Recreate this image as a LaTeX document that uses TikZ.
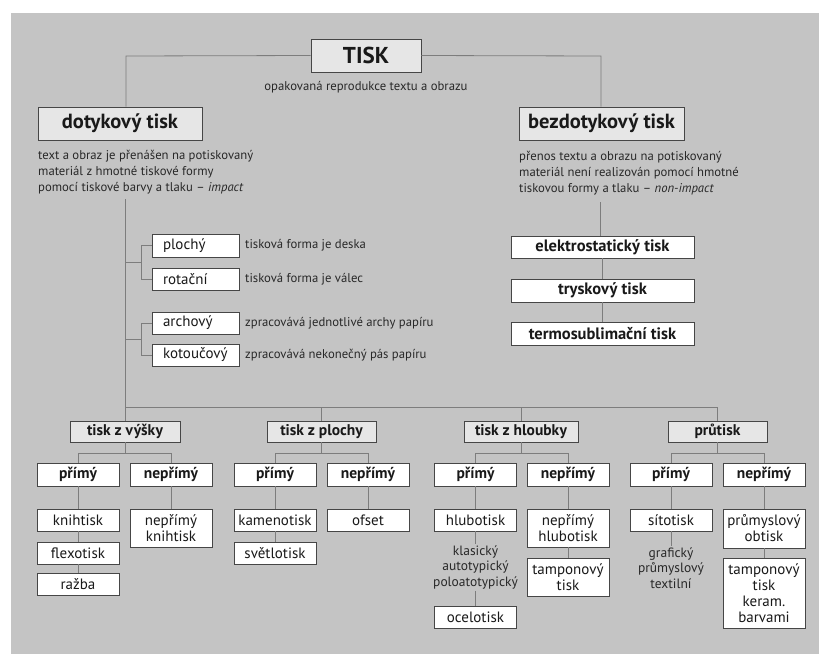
\documentclass[tikz,border=0pt]{standalone}
\usepackage{fontspec}
\setmainfont{PT Sans}
\usetikzlibrary{calc}
\definecolor{bgc}{RGB}{196,196,196}
\definecolor{hfillc}{RGB}{230,230,230}
\definecolor{bordc}{RGB}{70,70,70}
\definecolor{linec}{RGB}{125,125,125}
\definecolor{txtc}{RGB}{25,25,25}
\definecolor{descc}{RGB}{40,40,40}
\tikzset{
  boxbase/.style={draw=bordc, line width=0.9pt, inner sep=0pt, text=txtc, align=center},
  topbox/.style={boxbase, fill=hfillc, font=\bfseries\fontsize{20.5}{22}\selectfont},
  headbox/.style={boxbase, fill=hfillc, font=\bfseries\fontsize{15.5}{17}\selectfont, minimum height=21pt},
  kindbox/.style={boxbase, fill=white, font=\bfseries\fontsize{15.5}{17}\selectfont, minimum width=82pt, minimum height=23pt},
  leafbox/.style={boxbase, fill=white, font=\fontsize{15}{16}\selectfont, minimum width=82pt},
  nonbox/.style={boxbase, fill=white, font=\bfseries\fontsize{16.5}{18}\selectfont, minimum width=183pt},
  optbox/.style={boxbase, fill=white, font=\fontsize{15}{17}\selectfont, minimum width=87pt, text width=65pt, inner xsep=11pt, align=left},
  desctext/.style={inner sep=0pt, text=descc, font=\fontsize{12.7}{16}\selectfont, align=left},
  optdesc/.style={inner sep=0pt, text=descc, font=\fontsize{12.7}{15}\selectfont, anchor=west},
  notetext/.style={inner sep=1.5pt, text=descc, font=\fontsize{13.5}{15.5}\selectfont, align=center},
  conn/.style={draw=linec, line width=0.8pt}
}
\begin{document}
\begin{tikzpicture}[x=1pt,y=-1pt]
\useasboundingbox (0,0) rectangle (819,654);
\fill[white] (0,0) rectangle (819,654);
\fill[bgc] (11,13) rectangle (819,654);

% top level
\node[topbox, font=\bfseries\fontsize{23}{25}\selectfont, minimum width=110pt, minimum height=33pt] (tisk) at (366,55.5) {TISK};
\node[desctext] (tiskd) at (366,87) {opakovaná reprodukce textu a obrazu};
\node[topbox, minimum width=164pt, minimum height=33pt] (dot) at (120,123.5) {dotykový tisk};
\node[topbox, minimum width=165pt, minimum height=33pt] (bez) at (601.5,123.5) {bezdotykový tisk};
\coordinate (cl) at (126,56);
\coordinate (cr) at (601,56);
\draw[conn] (tisk.west) -- (cl) -- (cl |- dot.north);
\draw[conn] (tisk.east) -- (cr) -- (cr |- bez.north);

\node[desctext, anchor=north west] (dotd) at (38,150) {text a obraz je přenášen na potiskovaný\\materiál z hmotné tiskové formy\\pomocí tiskové barvy a tlaku – \textit{impact}};
\node[desctext, anchor=north west] (bezd) at (519,151) {přenos textu a obrazu na potiskovaný\\materiál není realizován pomocí hmotné\\tiskovou formy a tlaku – \textit{non-impact}};

% non-impact
\node[nonbox, minimum height=22pt] (elek) at (602.5,247) {elektrostatický tisk};
\node[nonbox, minimum height=23pt] (trys) at (602.5,290.5) {tryskový tisk};
\node[nonbox, minimum height=23pt] (term) at (602.5,333.5) {termosublimační tisk};
\coordinate (rtop) at (600,202);
\draw[conn] (rtop) -- (rtop |- elek.north);
\draw[conn] (elek) -- (trys);
\draw[conn] (trys) -- (term);

% impact options
\node[optbox, minimum height=23pt] (ploc) at (195.5,245.5) {plochý};
\node[optbox, minimum height=22pt] (rota) at (195.5,279) {rotační};
\node[optbox, minimum height=22pt] (arch) at (195.5,323) {archový};
\node[optbox, minimum height=22pt] (koto) at (195.5,355) {kotoučový};
\node[optdesc] (plocd) at (245,245.5) {tisková forma je deska};
\node[optdesc] (rotad) at (245,279) {tisková forma je válec};
\node[optdesc] (archd) at (245,323) {zpracovává jednotlivé archy papíru};
\node[optdesc] (kotod) at (245,355) {zpracovává nekonečný pás papíru};

\coordinate (ltop) at (125,199);
\coordinate (bA) at (125,262);
\coordinate (bB) at (125,339);
\draw[conn] (ploc.west) -- ++(-10.5,0) |- (rota.west);
\draw[conn] (arch.west) -- ++(-10.5,0) |- (koto.west);
\draw[conn] (bA) -- ++(16.5,0);
\draw[conn] (bB) -- ++(16.5,0);

% level 2 headings
\node[headbox, minimum width=110pt] (vys) at (125,431.5) {tisk z výšky};
\node[headbox, minimum width=109pt] (plo) at (321.5,431.5) {tisk z plochy};
\node[headbox, minimum width=114pt] (hlo) at (521,431.5) {tisk z hloubky};
\node[headbox, minimum width=99pt] (pru) at (717.5,431.5) {průtisk};
\coordinate (hl) at (125,407);
\draw[conn] (ltop) -- (vys.north);
\draw[conn] (hl) -- (hl -| pru.north) -- (pru.north);
\draw[conn] (hl -| plo.north) -- (plo.north);
\draw[conn] (hl -| hlo.north) -- (hlo.north);

% level 3
\node[kindbox] (vp) at (78,474.5) {přímý};
\node[kindbox] (vn) at (171,474.5) {nepřímý};
\node[kindbox] (pp) at (275,474.5) {přímý};
\node[kindbox] (pn) at (368,474.5) {nepřímý};
\node[kindbox] (hp) at (475.5,474.5) {přímý};
\node[kindbox] (hn) at (568,474.5) {nepřímý};
\node[kindbox] (tp) at (671,474.5) {přímý};
\node[kindbox] (tn) at (764,474.5) {nepřímý};
\foreach \h/\a/\b in {vys/vp/vn, plo/pp/pn, hlo/hp/hn, pru/tp/tn}{
  \draw[conn] (\h.south) -- ++(0,11);
  \draw[conn] (\a.north) |- ($(\h.south)+(0,11)$) -| (\b.north);
}

% leaves
\node[leafbox, minimum height=22pt] (knih) at (78,520) {knihtisk};
\node[leafbox, minimum height=22pt] (flex) at (78,553) {flexotisk};
\node[leafbox, minimum height=22pt] (razb) at (78,584) {ražba};
\node[leafbox, minimum height=38pt] (nknih) at (171,528) {nepřímý\\knihtisk};
\node[leafbox, minimum height=22pt] (kame) at (275,520) {kamenotisk};
\node[leafbox, minimum height=22pt] (svet) at (275,553) {světlotisk};
\node[leafbox, minimum height=22pt] (ofse) at (368,520) {ofset};
\node[leafbox, minimum height=22pt] (hlub) at (475.5,520) {hlubotisk};
\node[notetext] (klas) at (475.5,567.5) {klasický\\autotypický\\poloatotypický};
\node[leafbox, minimum height=22pt] (ocel) at (475.5,617) {ocelotisk};
\node[leafbox, minimum height=38pt] (nhlub) at (568,528) {nepřímý\\hlubotisk};
\node[leafbox, minimum height=38pt] (tamp) at (568,577) {tamponový\\tisk};
\node[leafbox, minimum height=22pt] (sito) at (671,520) {sítotisk};
\node[notetext] (graf) at (671,568) {grafický\\průmyslový\\textilní};
\node[leafbox, minimum height=39pt] (obti) at (764,528.5) {průmyslový\\obtisk};
\node[leafbox, minimum height=70pt] (tamk) at (764,593) {tamponový\\tisk\\keram.\\barvami};

\draw[conn] (vp) -- (knih);
\draw[conn] (knih) -- (flex);
\draw[conn] (flex) -- (razb);
\draw[conn] (vn) -- (nknih);
\draw[conn] (pp) -- (kame);
\draw[conn] (kame) -- (svet);
\draw[conn] (pn) -- (ofse);
\draw[conn] (hp) -- (hlub);
\draw[conn] (hlub) -- (klas);
\draw[conn] (klas) -- (ocel);
\draw[conn] (hn) -- (nhlub);
\draw[conn] (nhlub) -- (tamp);
\draw[conn] (tp) -- (sito);
\draw[conn] (sito) -- (graf);
\draw[conn] (tn) -- (obti);
\draw[conn] (obti) -- (tamk);
\end{tikzpicture}
\end{document}
